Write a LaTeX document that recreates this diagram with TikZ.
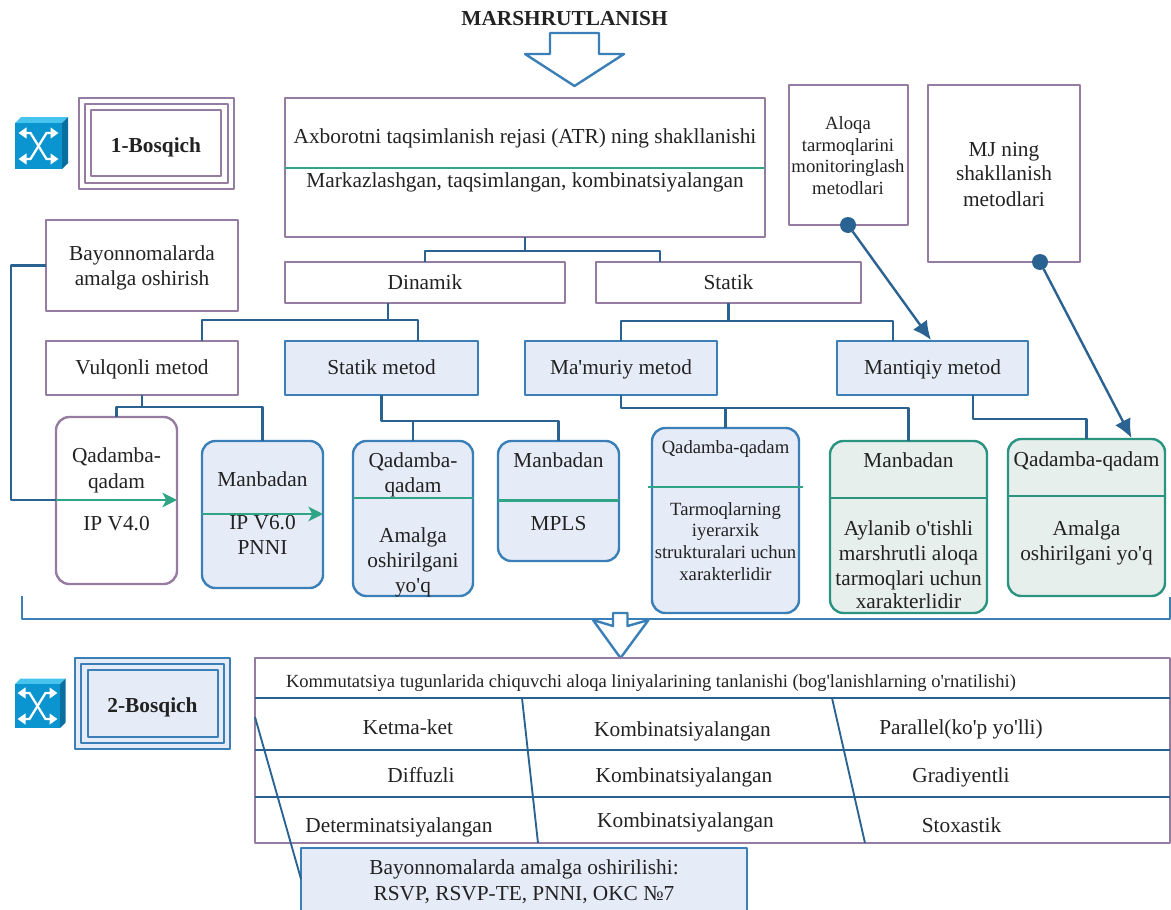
\documentclass[tikz,border=0pt]{standalone}
\usepackage{fontspec}
\setmainfont[Ligatures=TeXOff]{Liberation Serif}
\usetikzlibrary{arrows.meta}
\definecolor{purp}{HTML}{967CA0}
\definecolor{blu}{HTML}{3B7FB8}
\definecolor{dark}{HTML}{2A6291}
\definecolor{grn}{HTML}{2FA585}
\definecolor{bfill}{HTML}{E6ECF7}
\definecolor{teal2}{HTML}{2A9480}
\definecolor{tfill}{HTML}{E7EFEC}
\definecolor{txt}{HTML}{222222}
\definecolor{cubeA}{HTML}{0A94D0}
\definecolor{cubeB}{HTML}{47C4EE}
\definecolor{cubeC}{HTML}{0A6E9E}
\newcommand{\fs}[1]{\fontsize{#1pt}{#1pt}\selectfont}
\tikzset{
  base/.style={inner sep=0pt,outer sep=0pt,line width=1.8pt,align=center,text=txt,font=\fs{16},text height=13pt,text depth=3pt},
  pbox/.style={base,draw=purp,line join=round},
  bbox/.style={base,draw=blu,fill=bfill,line join=round},
  pround/.style={pbox,rounded corners=10pt},
  bround/.style={bbox,rounded corners=10pt},
  tround/.style={base,draw=teal2,fill=tfill,rounded corners=10pt},
  conn/.style={draw=dark,line width=1.8pt,line join=round},
  gline/.style={draw=grn,line width=1.8pt},
  garrow/.style={gline,-{Stealth[length=11pt,width=11pt,inset=3pt]}},
  dkarrow/.style={conn,-{Latex[length=14pt,width=13pt]}},
  dot/.style={circle,fill=dark,minimum size=12pt,inner sep=0pt,outer sep=0pt},
  tline/.style={draw=dark,line width=1.8pt},
  blockarrow/.style={draw=blu,fill=white,line width=1.8pt,line join=round},
  lbl/.style={inner sep=0pt,outer sep=0pt,text=txt,align=center,font=\fs{16},text height=12pt,text depth=3pt},
}
\newcounter{txc}
\newcommand{\bx}[7]{%
  \pgfmathsetmacro{\bw}{(#5-#3)*0.75}%
  \pgfmathsetmacro{\bh}{(#6-#4)*0.75}%
  \node[#1,minimum width=\bw pt,minimum height=\bh pt] (#2) at ({(#3+#5)/2},{(#4+#6)/2}) {#7};}
\newcommand{\tx}[4][16]{\stepcounter{txc}\node[lbl,font=\fs{#1}] (t\thetxc) at (#2,#3) {#4};}
\newcommand{\cube}[5]{%
  \fill[cubeB] (#1,#2) -- (#1+#5,#2-#5) -- (#3+#5,#2-#5) -- (#3,#2) -- cycle;
  \fill[cubeC] (#3,#2) -- (#3+#5,#2-#5) -- (#3+#5,#4-#5) -- (#3,#4) -- cycle;
  \fill[cubeA] (#1,#2) rectangle (#3,#4);
  \begin{scope}[shift={({(#1+#3)/2},{(#2+#4)/2})},line width=1.7pt,white,
      arr/.style={{Triangle[length=6pt,width=8pt]}-{Triangle[length=6pt,width=8pt]}}]
    \draw[arr] (-20,-13) -- (-8,-13) -- (8,13) -- (20,13);
    \draw[arr] (-20,13) -- (-8,13) -- (8,-13) -- (20,-13);
  \end{scope}}
\begin{document}
\begin{tikzpicture}[x=0.75pt,y=-0.75pt]
\useasboundingbox (0,0) rectangle (1171,910);
\clip (0,0) rectangle (1171,910);

\tx{564.5}{19}{\textbf{MARSHRUTLANISH}}
\draw[blockarrow] (550,33) -- (599,33) -- (599,54) -- (624,54) -- (574.5,86) -- (525,54) -- (550,54) -- cycle;

% stage 1
\cube{15}{123}{62}{169}{6}
\bx{pbox}{s1a}{79}{98}{234}{189}{}
\bx{pbox}{s1b}{85}{104}{228}{183}{}
\bx{pbox}{s1c}{91}{110}{221}{176}{}
\tx{156}{146}{\textbf{1-Bosqich}}

% top boxes
\bx{pbox}{atr}{285}{98}{765}{237}{}
\tx{525}{137}{Axborotni taqsimlanish rejasi (ATR) ning shakllanishi}
\tx{525}{181}{Markazlashgan, taqsimlangan, kombinatsiyalangan}
\draw[gline] (atr.west |- 0,168) -- (atr.east |- 0,168);
\bx{pbox}{mon}{789}{85}{908}{225}{}
\tx[14]{848}{123}{Aloqa}
\tx[14]{848}{145}{tarmoqlarini}
\tx[14]{848}{166}{monitoringlash}
\tx[14]{848}{188}{metodlari}
\bx{pbox}{mj}{928}{85}{1080}{262}{}
\tx{1004}{150}{MJ ning}
\tx{1004}{174}{shakllanish}
\tx{1004}{200}{metodlari}
\bx{pbox}{bay}{46}{220}{238}{311}{}
\tx{142}{254}{Bayonnomalarda}
\tx{142}{279}{amalga oshirish}

\bx{pbox}{din}{285}{262}{565}{303}{Dinamik}
\bx{pbox}{sta}{596}{262}{861}{303}{Statik}
\bx{pbox}{vul}{46}{341}{238}{395}{Vulqonli metod}
\bx{bbox}{stm}{285}{341}{478}{395}{Statik metod}
\bx{bbox}{mam}{525}{341}{717}{395}{Ma'muriy metod}
\bx{bbox}{mnt}{837}{341}{1028}{395}{Mantiqiy metod}

% rounded boxes
\bx{pround}{qa}{56}{417}{177}{584}{}
\tx{116.5}{456}{Qadamba-}
\tx{116.5}{482}{qadam}
\tx{116.5}{524}{IP V4.0}
\bx{bround}{mb}{202}{441}{323}{588}{}
\tx{262.5}{480}{Manbadan}
\tx{262.5}{523}{IP V6.0}
\tx{262.5}{548}{PNNI}
\bx{bround}{qb}{353}{441}{473}{596}{}
\tx{413}{461}{Qadamba-}
\tx{413}{486}{qadam}
\tx{413}{536}{Amalga}
\tx{413}{561}{oshirilgani}
\tx{413}{586}{yo'q}
\bx{bround}{mc}{498}{441}{619}{561}{}
\tx{558.5}{461}{Manbadan}
\tx{558.5}{524}{MPLS}
\bx{bround}{qc}{652}{428}{799}{613}{}
\tx[14]{725.5}{447}{Qadamba-qadam}
\tx[14]{725.5}{509}{Tarmoqlarning}
\tx[14]{725.5}{530}{iyerarxik}
\tx[14]{725.5}{552}{strukturalari uchun}
\tx[14]{725.5}{574}{xarakterlidir}
\bx{tround}{md}{830}{441}{987}{613}{}
\tx{908.5}{461}{Manbadan}
\tx{908.5}{529}{Aylanib o'tishli}
\tx{908.5}{554}{marshrutli aloqa}
\tx{908.5}{579}{tarmoqlari uchun}
\tx{908.5}{602}{xarakterlidir}
\bx{tround}{qd}{1008}{439}{1165}{596}{}
\tx{1086.5}{460}{Qadamba-qadam}
\tx{1086.5}{529}{Amalga}
\tx{1086.5}{554}{oshirilgani yo'q}

% green dividers and arrows
\coordinate (lft) at (11,500);
\coordinate (mbg) at (0,514);
\draw[conn] (bay.west) -| (lft) -- (qa.west |- lft);
\draw[garrow] (qa.west |- lft) -- (qa.east |- lft);
\draw[garrow] (mb.west |- mbg) -- (mb.east |- mbg);
\draw[gline] (qb.west |- 0,498) -- (qb.east |- 0,498);
\draw[gline] (mc.west |- 0,500.5) -- (mc.east |- 0,500.5);
\draw[gline] (648,487) -- (803,487);
\draw[draw=teal2,line width=1.8pt] (md.west |- 0,498) -- (md.east |- 0,498);
\draw[draw=teal2,line width=1.8pt] (qd.west |- 0,496) -- (qd.east |- 0,496);

% tree connectors
\coordinate (b0) at (525,251);
\coordinate (staT) at (660,262);
\draw[conn] (atr.south) -- (b0);
\draw[conn] (din.north) |- (b0) -| (staT);

\coordinate (dinB) at (388,303);
\coordinate (b1) at (388,320);
\coordinate (vulT) at (202,341);
\coordinate (stmT) at (418,341);
\draw[conn] (dinB) -- (b1);
\draw[conn] (vulT) |- (b1) -| (stmT);

\coordinate (b6) at (728.5,321);
\coordinate (mntT) at (893,341);
\draw[conn] (sta.south) -- (b6);
\draw[conn] (mam.north) |- (b6) -| (mntT);

\coordinate (b2) at (142,407);
\draw[conn] (vul.south) -- (b2);
\draw[conn] (qa.north) |- (b2) -| (mb.north);

\coordinate (b3) at (413,421);
\draw[conn] (stm.south) |- (mc.north |- b3) -- (mc.north);
\draw[conn] (b3) -- (qb.north);

\coordinate (b4) at (725.5,408);
\draw[conn] (mam.south) |- (md.north |- b4) -- (md.north);
\draw[conn] (b4) -- (qc.north);

\coordinate (mntB) at (973,395);
\coordinate (b5) at (1086.5,419);
\draw[conn] (mntB) |- (b5) -- (qd.north);

% dots and arrows
\node[dot] (d1) at (848,225) {};
\node[dot] (d2) at (1040,262) {};
\coordinate (mntA) at (931,340);
\coordinate (qdA) at (1131.5,438);
\draw[dkarrow] (d1) -- (mntA);
\draw[dkarrow] (d2) -- (qdA);

% bracket
\coordinate (brA) at (22,596);
\coordinate (brB) at (1170,597);
\coordinate (brY) at (0,619);
\draw[draw=blu,line width=1.8pt,line join=round] (brA) -- (brA |- brY) -- (brB |- brY) -- (brB);
\draw[blockarrow] (613,613) -- (627.5,613) -- (627.5,626) -- (648.5,620) -- (620.5,658) -- (593,620) -- (613,626) -- cycle;

% stage 2
\cube{15}{684}{60}{728}{5.5}
\bx{bbox}{s2a}{75}{658}{230}{749}{}
\bx{bbox}{s2b}{81}{664}{224}{743}{}
\bx{bbox}{s2c}{88}{670}{218}{737}{}
\tx{152.5}{706}{\textbf{2-Bosqich}}

% table
\bx{pbox}{tab}{255}{658}{1170}{843}{}
\tx[13.9]{651}{681}{Kommutatsiya tugunlarida chiquvchi aloqa liniyalarining tanlanishi (bog'lanishlarning o'rnatilishi)}
\foreach \yy in {698,750,797} {\draw[tline] (tab.west |- 0,\yy) -- (tab.east |- 0,\yy);}
\coordinate (s1t) at (522,698);
\coordinate (s1b) at (538,843);
\coordinate (s2t) at (832,698);
\coordinate (s2b) at (865,843);
\draw[tline,line width=1.4pt] (s1t) -- (s1b);
\draw[tline,line width=1.4pt] (s2t) -- (s2b);
\tx{408}{728}{Ketma-ket}
\tx{682.5}{730}{Kombinatsiyalangan}
\tx{961}{728}{Parallel(ko'p yo'lli)}
\tx{421}{776}{Diffuzli}
\tx{684}{776}{Kombinatsiyalangan}
\tx{961}{776}{Gradiyentli}
\tx{399}{826}{Determinatsiyalangan}
\tx{685.5}{821}{Kombinatsiyalangan}
\tx{961.5}{826}{Stoxastik}

% callout
\bx{bbox}{cal}{301}{848}{747}{930}{}
\tx{524}{868}{Bayonnomalarda amalga oshirilishi:}
\tx{524}{894}{RSVP, RSVP-TE, PNNI, OKC №7}
\coordinate (calT) at (255,717);
\coordinate (calB) at (301,879);
\draw[tline,line width=1.4pt] (calT) -- (calB);
\end{tikzpicture}
\end{document}
